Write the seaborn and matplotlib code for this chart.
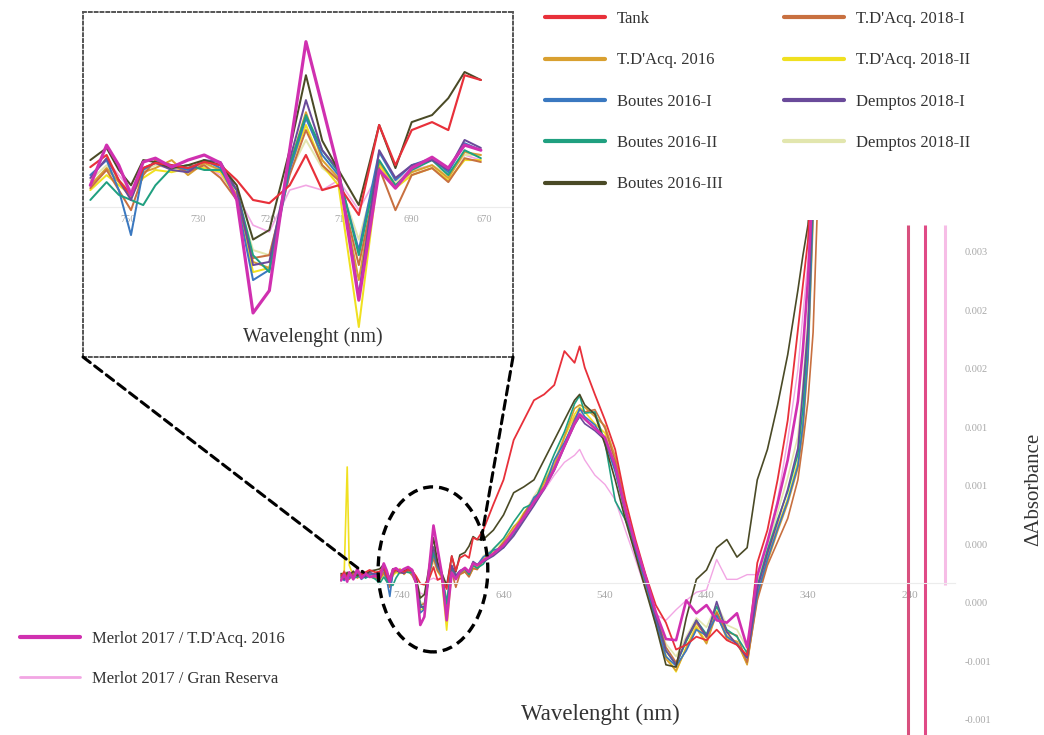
import numpy as np
import pandas as pd
import matplotlib
matplotlib.use('Agg')
import matplotlib.pyplot as plt
from matplotlib.patches import Ellipse, ConnectionPatch
from matplotlib.lines import Line2D
import seaborn as sns

# Wavelength grid (nm): flat start, zoomed region (inset), rest of spectrum
wl_start = [800, 797, 794, 792, 788, 784, 780, 776, 772, 766]
wl_zoom = [762, 758, 755, 752, 749, 746, 742, 738, 734, 730, 726, 722, 718, 713, 709,
           705, 701, 696, 691, 687, 683, 678, 674, 670, 666]
wl_rest = [660, 650, 640, 630, 620, 610, 600, 590, 580, 570, 565, 560, 550, 540, 530,
           520, 510, 500, 490, 480, 470, 460, 450, 440, 430, 420, 410, 400, 390, 380,
           370, 360, 350, 345, 340, 335, 330]
wavelength = wl_start + wl_zoom + wl_rest

# Delta absorbance, in units of 1e-4
tank = ([0.6, 0.9, 0.4, 0.8, 0.5, 1.0, 0.7, 0.9, 1.1, 0.9]
        + [0.97, 1.35, 0.56, 0.1, 0.94, 1.1, 1.03, 0.94, 1.13, 1.03, 0.56, -0.06, -0.16, 0.4, 1.35,
           0.25, 0.4, -0.53, 2.29, 1.03, 2.13, 2.38, 2.13, 3.85, 3.7]
        + [4.5, 6.7, 8.8, 12.2, 13.9, 15.6, 16.1, 16.9, 19.8, 18.8, 20.2, 18.4, 16.1, 13.9, 11.4,
           7.1, 3.7, 0.7, -1.9, -3.4, -5.7, -5.3, -4.6, -4.9, -4.0, -4.9, -5.3, -6.2, 1.7, 4.5,
           8.8, 13.9, 21.6, 25.5, 29.3, 38, 42])
tdacq_2016 = ([0.3, 0.8, 0.2, 0.5, 0.9, 0.4, 0.7, 0.5, 0.8, 0.6]
              + [0.4, 0.94, 0.5, 0.0, 0.81, 0.94, 1.19, 0.72, 1.1, 0.88, 0.1, -2.0, -2.19, 1.03, 2.69,
                 1.19, 0.63, -2.57, 1.13, 0.4, 0.81, 1.03, 0.63, 1.44, 1.35]
              + [2.0, 2.4, 3.5, 4.8, 5.6, 7.0, 8.6, 10.0, 12.5, 14.9, 15.2, 15.0, 14.2, 13.4, 10.8,
                 6.6, 2.6, -0.2, -3.5, -6.5, -7.5, -5.6, -3.9, -5.2, -2.6, -4.8, -5.0, -7.0, -1.2, 1.8,
                 4.4, 6.8, 9.8, 13.0, 19.0, 31, 40])
boutes_2016_1 = ([0.5, 0.2, 0.7, 0.4, 0.6, 0.9, 0.3, 0.6, 0.7, 0.8]
                 + [0.72, 1.19, 0.25, -1.16, 0.88, 1.13, 1.03, 0.88, 1.19, 0.94, -0.06, -2.57, -2.25, 0.88, 2.5,
                    1.35, 0.72, -1.63, 1.44, 0.56, 1.03, 1.25, 0.81, 1.72, 1.5]
                 + [2.2, 2.8, 3.0, 4.2, 5.5, 7.3, 8.0, 10.5, 12.0, 13.8, 14.9, 14.2, 13.5, 12.1, 9.5,
                    6.0, 2.8, 0.0, -3.3, -6.3, -7.1, -5.8, -4.0, -4.5, -2.8, -4.6, -5.2, -6.4, -1.0, 2.0,
                    4.6, 7.0, 10.0, 13.5, 19.5, 32, 40])
boutes_2016_2 = ([0.2, 0.6, 0.3, 0.7, 0.4, 0.5, 0.8, 0.4, 0.6, 0.3]
                 + [-0.06, 0.5, 0.1, -0.06, -0.22, 0.4, 0.94, 1.03, 0.88, 0.88, 0.25, -1.79, -2.32, 1.03, 2.6,
                    1.5, 0.81, -1.79, 1.19, 0.4, 0.88, 1.19, 0.72, 1.5, 1.25]
                 + [1.6, 2.9, 3.8, 5.2, 6.4, 6.8, 8.9, 11.0, 12.9, 15.3, 16.0, 14.5, 14.6, 12.0, 7.0,
                    5.4, 3.3, 0.5, -2.8, -5.8, -7.0, -5.0, -3.2, -4.4, -2.0, -4.0, -4.6, -6.0, -0.3, 2.8,
                    5.4, 7.8, 11.0, 15.0, 21.5, 33, 40])
boutes_2016_3 = ([0.8, 0.4, 0.9, 0.6, 1.0, 0.6, 0.9, 0.7, 1.0, 1.1]
                 + [1.19, 1.57, 0.88, 0.4, 1.19, 1.13, 0.94, 1.03, 1.19, 1.03, 0.4, -1.3, -1.0, 1.5, 3.85,
                    1.8, 0.88, -0.22, 2.29, 0.94, 2.38, 2.6, 3.13, 3.95, 3.7]
                 + [3.7, 4.5, 5.8, 7.7, 8.2, 8.8, 10.5, 12.2, 13.9, 15.6, 16.1, 15.2, 14.4, 11.8, 8.8,
                    5.4, 2.4, -0.6, -3.6, -7.0, -7.2, -3.0, 0.3, 1.1, 3.0, 3.7, 2.2, 3.0, 8.8, 11.4,
                    15.2, 19.5, 25.0, 28.0, 30.6, 36, 40])
tdacq_2018_1 = ([0.4, 1.0, 0.5, 0.3, 0.8, 0.6, 0.4, 0.9, 0.5, 0.4]
                + [0.31, 0.88, 0.25, -0.38, 0.72, 1.19, 1.03, 0.81, 1.03, 0.63, -0.06, -1.88, -1.79, 0.72, 2.13,
                   1.03, 0.56, -2.1, 0.94, -0.38, 0.72, 0.94, 0.5, 1.25, 1.13]
                + [1.9, 2.5, 3.4, 4.3, 5.9, 7.2, 8.2, 9.8, 11.8, 14.0, 14.8, 14.6, 14.8, 13.2, 10.4,
                   6.4, 3.2, 0.6, -2.6, -5.5, -6.8, -5.0, -3.4, -4.7, -2.5, -4.2, -4.5, -6.8, -1.5, 1.5,
                   3.5, 5.5, 8.8, 12.0, 15.6, 21.4, 34])
tdacq_2018_2 = ([0.5, 0.7, 9.9, 1.5, 0.6, 0.8, 0.5, 0.7, 0.6, 0.5]
                + [0.25, 0.72, 0.4, 0.1, 0.63, 0.88, 0.81, 0.94, 0.94, 0.81, 0.0, -2.32, -2.19, 0.94, 2.29,
                   1.03, 0.4, -4.04, 1.03, 0.31, 0.72, 0.94, 0.56, 1.19, 1.19]
                + [2.1, 2.7, 3.1, 4.6, 6.0, 7.0, 8.5, 10.3, 12.4, 14.4, 15.0, 14.6, 13.6, 12.8, 9.8,
                   5.9, 2.8, 0.1, -3.2, -6.2, -7.6, -5.5, -3.7, -5.1, -2.4, -4.5, -5.1, -6.9, -0.8, 2.2,
                   4.8, 7.2, 10.3, 13.8, 20.5, 33, 40])
demptos_2018_1 = ([0.7, 0.3, 0.6, 0.9, 0.5, 0.7, 0.8, 0.5, 0.9, 0.7]
                  + [0.63, 1.25, 0.56, -0.06, 0.94, 1.1, 0.88, 0.81, 1.19, 1.13, 0.25, -2.1, -2.0, 1.19, 3.07,
                     1.5, 0.88, -3.04, 1.5, 0.63, 1.03, 1.19, 0.88, 1.82, 1.57]
                  + [1.8, 2.3, 3.0, 4.0, 5.3, 6.6, 8.0, 9.6, 11.6, 13.5, 14.2, 13.6, 13.0, 12.2, 9.9,
                     6.1, 3.1, 0.4, -2.9, -5.8, -7.0, -4.8, -3.2, -4.6, -1.6, -4.2, -5.3, -6.4, -0.5, 2.5,
                     5.2, 8.0, 11.5, 16.5, 22.0, 34, 40])
demptos_2018_2 = ([0.6, 0.5, 0.8, 0.6, 0.7, 0.5, 0.6, 0.8, 0.7, 0.6]
                  + [0.56, 1.03, 0.56, 0.19, 0.88, 1.03, 0.94, 0.88, 1.03, 0.88, 0.1, -1.63, -1.79, 0.81, 1.82,
                     0.94, 0.56, -1.3, 1.03, 0.5, 0.81, 1.03, 0.72, 1.35, 1.35]
                  + [2.3, 2.9, 3.6, 4.7, 5.9, 7.4, 8.7, 10.4, 12.6, 14.2, 14.6, 14.0, 13.3, 12.5, 9.6,
                     6.0, 2.9, 0.2, -2.6, -5.2, -6.3, -4.6, -3.0, -3.8, -1.8, -3.6, -4.0, -5.6, 0.0, 3.0,
                     6.0, 9.0, 12.5, 17.0, 23.0, 34, 40])
merlot_tdacq = ([0.2, 0.7, 0.1, 0.9, 0.3, 1.2, 0.4, 0.8, 0.5, 0.6]
                + [0.4, 1.66, 1.03, 0.1, 1.13, 1.25, 0.97, 1.19, 1.35, 1.1, -0.06, -3.6, -2.9, 1.5, 4.9,
                   2.9, 0.88, -3.2, 0.88, 0.31, 0.94, 1.28, 0.94, 1.66, 1.5]
                + [1.9, 2.5, 3.2, 4.4, 5.6, 6.9, 8.1, 9.7, 11.7, 13.6, 14.4, 14.0, 13.2, 12.4, 10.0,
                   6.3, 3.3, 0.5, -2.5, -4.8, -4.9, -1.5, -2.6, -1.9, -3.2, -3.4, -2.6, -5.5, 0.6, 3.5,
                   6.8, 10.5, 15.5, 20.0, 26.0, 35, 40])
merlot_gran_reserva = ([0.5, 0.9, 0.6, 0.4, 0.7, 0.6, 0.9, 0.6, 0.8, 0.7]
                       + [0.72, 1.19, 0.72, 0.25, 0.94, 1.03, 0.94, 1.03, 1.03, 0.72, 0.1, -0.85, -1.06, 0.25, 0.4,
                          0.25, 0.56, -0.38, 0.81, 0.56, 0.88, 1.03, 0.72, 1.35, 1.19]
                       + [1.8, 2.4, 3.2, 4.5, 5.4, 6.7, 7.9, 9.2, 10.3, 10.9, 11.4, 10.5, 9.2, 8.4, 7.1,
                          4.5, 2.0, -0.6, -2.7, -3.2, -2.3, -1.5, -0.8, -0.6, 2.0, 0.3, 0.3, 0.7, 0.7, 3.2,
                          7.1, 12.2, 18.2, 23.0, 27.6, 36, 40])

names = ['Tank', "T.D'Acq. 2016", 'Boutes 2016-I', 'Boutes 2016-II', 'Boutes 2016-III',
         "T.D'Acq. 2018-I", "T.D'Acq. 2018-II", 'Demptos 2018-I', 'Demptos 2018-II',
         "Merlot 2017 / T.D'Acq. 2016", 'Merlot 2017 / Gran Reserva']
values = [tank, tdacq_2016, boutes_2016_1, boutes_2016_2, boutes_2016_3, tdacq_2018_1,
          tdacq_2018_2, demptos_2018_1, demptos_2018_2, merlot_tdacq, merlot_gran_reserva]
colors = ['#e8303a', '#d9a030', '#3a78c0', '#20a080', '#4a4a26', '#c87040',
          '#f0e020', '#6a4a9a', '#e2e6ae', '#d030b0', '#f2a6e4']
widths = [1.3, 1.2, 1.2, 1.2, 1.2, 1.2, 1.2, 1.2, 1.2, 1.9, 1.0]
draw_order = [10, 8, 6, 1, 5, 2, 3, 7, 4, 0, 9]

# off-scale traces at the short-wavelength end
spike_wl = [241.5, 224.7, 205.0]
spike_top = [30.6, 30.6, 30.6]
spike_bottom = [-14.0, -14.0, -0.2]
spike_colors = ['#d8507e', '#e04a86', '#f6bde6']

# y tick labels as printed on the chart
ytick_labels = ['0.003', '0.002', '0.002', '0.001', '0.001', '0.000', '0.000', '-0.001', '-0.001']
xtick_values = [740, 640, 540, 440, 340, 240]
inset_tick_labels = ['750', '730', '720', '710', '690', '670']

df = pd.concat([pd.DataFrame({'wl': wavelength, 'dA': np.array(v) * 1e-4, 'sample': n})
                for n, v in zip(names, values)], ignore_index=True)

sns.set_style('white')
plt.rcParams['font.family'] = ['Liberation Serif', 'DejaVu Serif']

fig = plt.figure(figsize=(10.44, 7.35), dpi=100)

# Main spectrum
ax = fig.add_axes([340 / 1044, 0, 615 / 1044, 515 / 735])
for i in draw_order:
    sns.lineplot(data=df[df['sample'] == names[i]], x='wl', y='dA', color=colors[i],
                 lw=widths[i], ax=ax, sort=False, legend=False)
ax.vlines(spike_wl, np.array(spike_bottom) * 1e-4, np.array(spike_top) * 1e-4,
          colors=spike_colors, lw=2.2)
ax.set_xlim(801.1, 195.2)
ax.set_ylim(-0.0013, 0.0031)
for s in ['top', 'left', 'right']:
    ax.spines[s].set_visible(False)
ax.spines['bottom'].set_position(('data', 0))
ax.spines['bottom'].set_color('#ececec')
ax.set_xticks(xtick_values)
ax.tick_params(axis='x', length=0, labelsize=8, labelcolor='#a8a8a8', pad=6)
ax.yaxis.tick_right()
ax.set_yticks(np.linspace(0.00283, -0.00117, 9))
ax.set_yticklabels(ytick_labels)
ax.tick_params(axis='y', length=0, labelsize=7.5, labelcolor='#a8a8a8', pad=7)
ax.set_xlabel('Wavelenght (nm)', fontsize=16.5, color='#333333')
ax.xaxis.set_label_coords(0.4228, 0.06)
ax.yaxis.set_label_position('right')
ax.set_ylabel('ΔAbsorbance', fontsize=15, color='#333333', rotation=90)
ax.yaxis.set_label_coords(1.112, 0.476)

# Dashed ellipse around the zoomed region
ax.add_patch(Ellipse((709.5, 1.15e-4), width=108, height=14.1e-4, fill=False,
                     ls=(0, (3, 1.8)), lw=2.4, color='black', zorder=5))

# Inset
ax_in = fig.add_axes([83 / 1044, (735 - 357) / 735, 430 / 1044, 345 / 735])
zoom = df[df['wl'].between(665, 763)]
for i in draw_order:
    sns.lineplot(data=zoom[zoom['sample'] == names[i]], x='wl', y='dA', color=colors[i],
                 lw=widths[i] * 1.2, ax=ax_in, sort=False, legend=False)
ax_in.set_xlim(763.8, 658.1)
ax_in.set_ylim(-4.98e-4, 5.83e-4)
ax_in.set_xticks([])
ax_in.set_yticks([])
ax_in.set_ylabel('')
for s in ax_in.spines.values():
    s.set_linestyle((0, (1.5, 1.5)))
    s.set_color('#555555')
    s.set_linewidth(1.4)
sec = ax_in.secondary_xaxis(0.435)
sec.set_xticks([752.7, 735.5, 718.3, 700.1, 683.0, 665.1])
sec.set_xticklabels(inset_tick_labels)
sec.tick_params(length=0, labelsize=7.5, labelcolor='#a8a8a8', pad=6)
sec.spines['bottom'].set_color('#ececec')
ax_in.set_xlabel('Wavelenght (nm)', fontsize=14.5, color='#333333')
ax_in.xaxis.set_label_coords(0.535, 0.087)

# Dashed connectors from inset to ellipse
for corner, target in [((0, 0), (778, 0.9e-4)), ((1, 0), (662, 3.7e-4))]:
    fig.add_artist(ConnectionPatch(xyA=corner, coordsA=ax_in.transAxes, xyB=target,
                                   coordsB=ax.transData, ls=(0, (3, 1.8)), lw=2.2, color='black'))

# Legends
handles = [Line2D([0], [0], color=c, lw=3) for c in colors]
handles[10] = Line2D([0], [0], color=colors[10], lw=2)
fig.legend(handles[:9], names[:9], loc='upper left', bbox_to_anchor=(545 / 1044, 1 - 11 / 735),
           ncol=2, frameon=False, fontsize=12, handlelength=3.6, handletextpad=0.7,
           columnspacing=3.7, labelspacing=1.52, borderpad=0, borderaxespad=0,
           labelcolor='#333333')
fig.legend(handles[9:], names[9:], loc='upper left', bbox_to_anchor=(20 / 1044, 1 - 631 / 735),
           frameon=False, fontsize=12, handlelength=3.6, handletextpad=0.7,
           labelspacing=1.45, borderpad=0, borderaxespad=0, labelcolor='#333333')

fig.savefig('out.png', dpi=100)
